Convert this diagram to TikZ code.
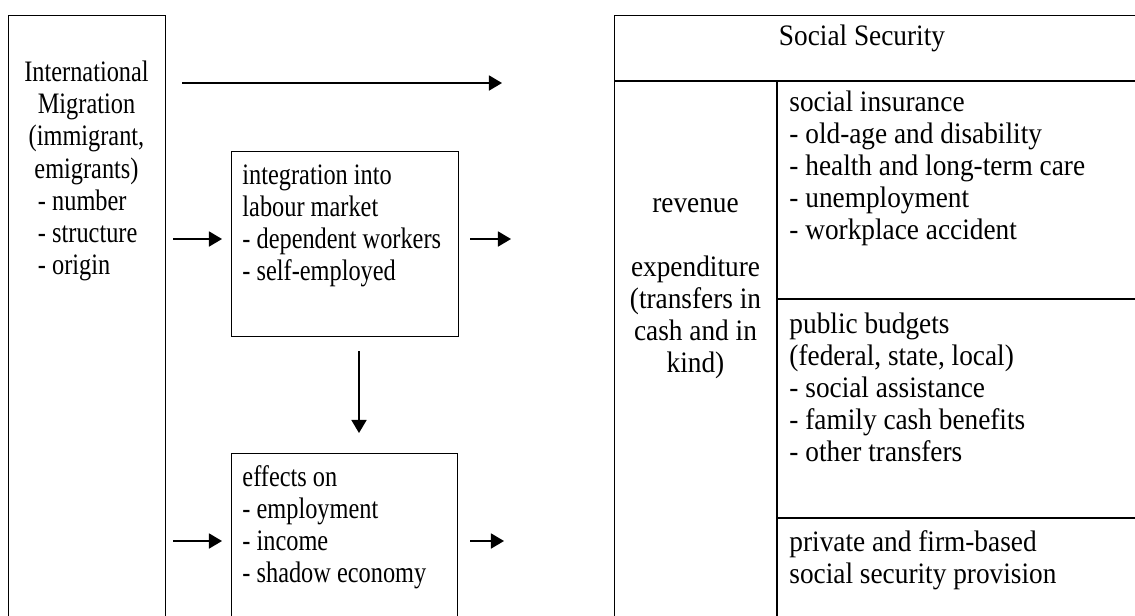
\documentclass[tikz,border=0pt]{standalone}
\usepackage{fontspec}
\setmainfont{Liberation Serif}
\newfontfamily\rightfont[FakeStretch=0.92]{Liberation Serif}
\newfontfamily\narrowfont[FakeStretch=0.82]{Liberation Serif}
\usetikzlibrary{arrows.meta}
\newlength\px
\setlength\px{0.438pt}

\begin{document}
\begin{tikzpicture}[x=\px, y=-\px,
    box/.style={draw, line width=0.6pt, anchor=north west, inner sep=0pt},
    txt/.style={inner sep=0pt, font=\rightfont\fontsize{13}{14.1}\selectfont},
    nar/.style={inner sep=0pt, font=\narrowfont\fontsize{13}{14.1}\selectfont},
    arr/.style={-{Triangle[length=5.7pt, width=6.6pt]}, line width=0.6pt}]
        \useasboundingbox (0,0) rectangle (1135,615);
        \clip (0,0) rectangle (1135,615);

        % 枠の描画
        \node[box, minimum width=157\px, minimum height=700\px] (mig) at (8,15) {};
        \node[box, minimum width=227\px, minimum height=185\px] (lab) at (231,151) {};
        \node[box, minimum width=226\px, minimum height=300\px] (eff) at (231,453) {};
        \node[box, minimum width=600\px, minimum height=700\px] (ss) at (614,15) {};

        % Social Security の区切り
        \coordinate (head) at (614,81);
        \coordinate (col) at (777,81);
        \coordinate (cut1) at (777,299);
        \coordinate (cut2) at (777,518);
        \draw[line width=0.6pt] (head) -- (head -| ss.east);
        \draw[line width=0.6pt] (col) -- (col |- ss.south);
        \draw[line width=0.6pt] (cut1) -- (cut1 -| ss.east);
        \draw[line width=0.6pt] (cut2) -- (cut2 -| ss.east);

        % 文字の描画
        \node[nar, align=center, anchor=north] (migtxt) at (86.5,58.5)
            {\strut International\\Migration\\(immigrant,\\emigrants)\\\makebox[97\px][l]{- number}\\\makebox[97\px][l]{- structure}\\\makebox[97\px][l]{- origin}};
        \node[nar, align=left, anchor=north west] (labtxt) at (242,161)
            {\strut integration into\\labour market\\- dependent workers\\- self-employed};
        \node[nar, align=left, anchor=north west] (efftxt) at (242,463)
            {\strut effects on\\- employment\\- income\\- shadow economy};
        \node[txt, anchor=north] (sstxt) at (862,23) {\strut Social Security};
        \node[txt, align=center, anchor=north] (revtxt) at (695.5,189)
            {\strut revenue\\[14.1pt]expenditure\\(transfers in\\cash and in\\kind)};
        \node[txt, align=left, anchor=north west] (instxt) at (789,88)
            {\strut social insurance\\- old-age and disability\\- health and long-term care\\- unemployment\\- workplace accident};
        \node[txt, align=left, anchor=north west] (pubtxt) at (789,310)
            {\strut public budgets\\(federal, state, local)\\- social assistance\\- family cash benefits\\- other transfers};
        \node[txt, align=left, anchor=north west] (privtxt) at (789,528)
            {\strut private and firm-based\\social security provision};

        % 矢印の描画
        \coordinate (rowA) at (0,83);
        \coordinate (rowB) at (0,239);
        \coordinate (rowC) at (0,541);
        \coordinate (colD) at (359,0);
        \draw[arr, shorten <=16\px, shorten >=112\px] (mig.east |- rowA) -- (ss.west |- rowA);
        \foreach \row/\dest in {rowB/lab, rowC/eff}
            \draw[arr, shorten <=7\px, shorten >=9\px] (mig.east |- \row) -- (\dest.west |- \row);
        \draw[arr, shorten <=11\px, shorten >=103\px] (lab.east |- rowB) -- (ss.west |- rowB);
        \draw[arr, shorten <=12\px, shorten >=110\px] (eff.east |- rowC) -- (ss.west |- rowC);
        \draw[arr, shorten <=14\px, shorten >=20\px] (lab.south -| colD) -- (eff.north -| colD);

    \end{tikzpicture}
\end{document}
